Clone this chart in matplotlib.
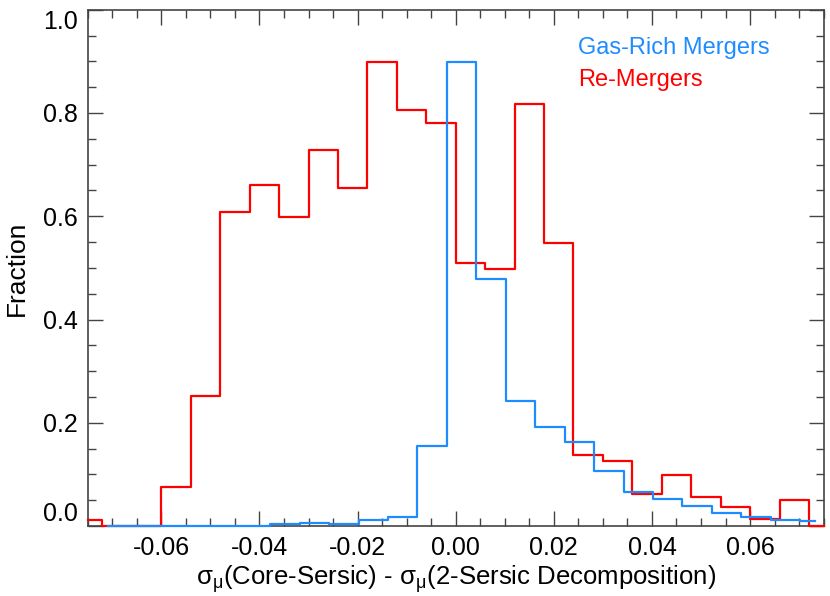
import numpy as np
import matplotlib
matplotlib.use("Agg")
import matplotlib.pyplot as plt
from matplotlib.ticker import MultipleLocator

plt.rcParams['font.family'] = ['Liberation Sans', 'DejaVu Sans']

# Histogram bin centres (IDL psym=10 style) and fractions
red_centers = np.round(-0.075 + 0.006 * np.arange(26), 4)
red_values = [0.012, 0.0, 0.0, 0.075, 0.251, 0.609, 0.660, 0.598, 0.729, 0.654,
              0.899, 0.805, 0.780, 0.510, 0.497, 0.818, 0.548, 0.137, 0.125, 0.062,
              0.099, 0.056, 0.037, 0.013, 0.051, 0.0]

blue_centers = np.round(-0.0708 + 0.006 * np.arange(25), 4)
blue_values = [0.0, 0.0, 0.0, 0.0, 0.0, 0.001, 0.003, 0.006, 0.004, 0.011,
               0.017, 0.155, 0.899, 0.478, 0.242, 0.191, 0.162, 0.106, 0.065, 0.052,
               0.039, 0.026, 0.017, 0.012, 0.009]

labels = ["Gas-Rich Mergers", "Re-Mergers"]
colors = ["#1E8CFF", "#FF0000"]

fig = plt.figure(figsize=(8.30, 5.96), dpi=100)
ax = fig.add_axes([0.1057, 0.1174, 0.8867, 0.8663])

ax.plot(red_centers, red_values, drawstyle='steps-mid', color=colors[1], lw=1.6,
        zorder=3, clip_on=False)
ax.plot(blue_centers, blue_values, drawstyle='steps-mid', color=colors[0], lw=1.6,
        zorder=3.1, clip_on=False)

ax.set_xlim(-0.075, 0.075)
ax.set_ylim(0.0, 1.0)
ax.xaxis.set_major_locator(MultipleLocator(0.02))
ax.xaxis.set_minor_locator(MultipleLocator(0.005))
ax.yaxis.set_major_locator(MultipleLocator(0.2))
ax.yaxis.set_minor_locator(MultipleLocator(0.05))
ax.xaxis.set_major_formatter(plt.FuncFormatter(lambda v, p: f"{v:.2f}"))
ax.yaxis.set_major_formatter(plt.FuncFormatter(lambda v, p: f"{v:.1f}"))

ax.tick_params(which='both', direction='in', top=True, right=True, color='#444444')
ax.tick_params(which='major', length=11, width=1, labelsize=18, pad=7)
ax.tick_params(which='minor', length=6, width=1)
for s in ax.spines.values():
    s.set_color('#444444')
    s.set_linewidth(1.2)

ax.set_xlabel('σ$_{\\mathregular{μ}}$(Core-Sersic) - σ$_{\\mathregular{μ}}$(2-Sersic Decomposition)',
              fontsize=18.5, labelpad=2)
ax.set_ylabel('Fraction', fontsize=19, labelpad=10)

ax.text(0.666, 0.926, labels[0], color=colors[0], fontsize=17, transform=ax.transAxes, va='center')
ax.text(0.666, 0.864, labels[1], color=colors[1], fontsize=17, transform=ax.transAxes, va='center')

fig.canvas.draw()
for t in ax.yaxis.get_major_ticks():
    v = t.get_loc()
    if abs(v) < 1e-9:
        t.label1.set_va('bottom')
    elif abs(v - 1.0) < 1e-9:
        t.label1.set_va('top')

fig.savefig("out.png", dpi=100)
